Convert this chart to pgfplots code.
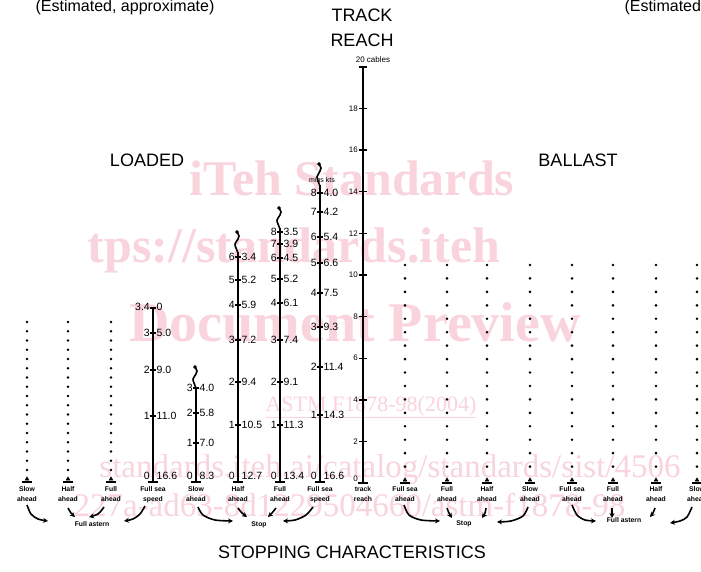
\documentclass[border=0pt]{standalone}
\usepackage{pgfplots}
\pgfplotsset{compat=1.18}
\usepackage{fontspec}
\setmainfont{Liberation Sans}
\newfontfamily\wm{Liberation Serif}
\usetikzlibrary{arrows.meta}
\definecolor{wmpink}{RGB}{249,212,220}
\newcommand{\fs}[1]{\fontsize{#1}{#1}\selectfont}
\newcommand{\lab}[4]{%
  \node[anchor=east,inner sep=0pt,xshift=-3pt,font=\fs{10.5}] at (axis cs:#1,#2) {#3};%
  \node[anchor=west,inner sep=0pt,xshift=3.5pt,font=\fs{10.5}] at (axis cs:#1,#2) {#4};}
\newcommand{\bl}[3]{%
  \node[inner sep=0pt,font=\bfseries\fs{6.8}] at (axis cs:#1,489) {#2};%
  \node[inner sep=0pt,font=\bfseries\fs{6.8}] at (axis cs:#1,499.5) {#3};}
\begin{document}
\begin{tikzpicture}
\clip (0,0) rectangle (701pt,572pt);
\fill[white] (0,0) rectangle (701pt,572pt);
\begin{axis}[at={(0,0)}, anchor=south west, scale only axis,
  width=701pt, height=572pt, xmin=0, xmax=701, ymin=0, ymax=572,
  y dir=reverse, hide axis, clip=false]
% ---- watermark
\node[text=wmpink,font=\wm\bfseries\fs{50}] at (axis cs:352,178) {iTeh Standards};
\node[text=wmpink,font=\wm\bfseries\fs{50}] at (axis cs:294,250) {tps://standards.iteh};
\node[text=wmpink,font=\wm\bfseries\fs{56}] at (axis cs:355,322) {Document Preview};
\node[text=wmpink,font=\wm\fs{22}] at (axis cs:371,407) {\underline{ASTM F1878-98(2004)}};
\node[text=wmpink,font=\wm\fs{33}] at (axis cs:390,470) {standards.iteh.ai/catalog/standards/sist/4506};
\node[text=wmpink,font=\wm\fs{33},anchor=west] at (axis cs:70,505) {227a-ad63-8d1229504660/astm-f1878-98};
% ---- titles
\node[font=\fs{16}] at (axis cs:125,7) {(Estimated, approximate)};
\node[font=\fs{16},anchor=west] at (axis cs:621,7) {(Estimated, approximate)};
\node[font=\fs{18}] at (axis cs:362,15) {TRACK};
\node[font=\fs{18}] at (axis cs:362,40) {REACH};
\node[font=\fs{8}] at (axis cs:373,60) {20 cables};
\node[font=\fs{18}] at (axis cs:147,160) {LOADED};
\node[font=\fs{18}] at (axis cs:578,160) {BALLAST};
\node[font=\fs{18}] at (axis cs:352,552) {STOPPING CHARACTERISTICS};
\node[font=\fs{7}] at (axis cs:322,180) {mins kts};
% ---- dotted lines
\addplot[black, line width=2.9pt, line cap=round, dash pattern=on 0pt off 9.25pt] coordinates {(27,322) (27,470)};
\addplot[black, line width=2.9pt, line cap=round, dash pattern=on 0pt off 9.25pt] coordinates {(68,322) (68,470)};
\addplot[black, line width=2.9pt, line cap=round, dash pattern=on 0pt off 9.25pt] coordinates {(111,322) (111,470)};
\foreach \xx in {405,447,487,530,572,613,656,697}{
  \edef\tmp{\noexpand\addplot[black, line width=2.9pt, line cap=round, dash pattern=on 0pt off 13.44pt] coordinates {(\xx,265) (\xx,480)};}\tmp
}
% ---- bases
\addplot[only marks, mark=-, mark size=5pt, mark options={line width=2pt}] coordinates {(27,482) (68,482) (111,482) (153,482) (196,482) (238,482) (280,482) (320,482) (363,483) (405,483) (447,483) (487,483) (530,483) (572,483) (613,483) (656,483) (697,483)};
\addplot[only marks, mark=triangle*, mark size=2.2pt] coordinates {(27,479) (68,479) (111,479) (405,480) (447,480) (487,480) (530,480) (572,480) (613,480) (656,480) (697,480)};
% ---- solid lines
\addplot[black, line width=1.9pt] coordinates {(153,482) (153,308)};
\addplot[black, line width=1.9pt] coordinates {(196,482) (196,387)};
\addplot[black, line width=1.9pt] coordinates {(238,482) (238,252)};
\addplot[black, line width=1.9pt] coordinates {(280,482) (280,228)};
\addplot[black, line width=1.9pt] coordinates {(320,482) (320,185)};
\addplot[black, line width=2.3pt] coordinates {(363,483) (363,67)};
% squiggles
\addplot[black, line width=1.6pt, smooth] coordinates {(196,388) (194,383) (193,379) (196,374) (197,371) (195,367)};
\addplot[black, line width=1.6pt, smooth] coordinates {(238,253) (236,248) (235,244) (238,239) (239,236) (237,232)};
\addplot[black, line width=1.6pt, smooth] coordinates {(280,229) (278,224) (277,220) (280,215) (281,212) (279,208)};
\addplot[black, line width=1.6pt, smooth] coordinates {(320,186) (318,181) (317,177) (320,171) (321,168) (319,164)};
\addplot[only marks, mark=*, mark size=1.6pt] coordinates {(195,367) (237,232) (279,208) (319,164)};
% minute ticks
\addplot[only marks, mark=-, mark size=3pt, mark options={line width=1.2pt}] coordinates {
 (153,308) (153,333) (153,370) (153,416)
 (196,388) (196,413) (196,443)
 (238,257) (238,280) (238,305) (238,340) (238,382) (238,425)
 (280,232) (280,244) (280,258) (280,279) (280,303) (280,340) (280,382) (280,425)
 (320,193) (320,212) (320,237) (320,263) (320,293) (320,327) (320,367) (320,415)};
\addplot[only marks, mark=-, mark size=4pt, mark options={line width=1.4pt}] coordinates {
 (363,67) (363,108.6) (363,150.2) (363,191.8) (363,233.4) (363,275) (363,316.6) (363,358.2) (363,399.8) (363,441.4)};
% ---- labels on lines
\lab{153}{476}{0}{16.6}\lab{153}{416}{1}{11.0}\lab{153}{370}{2}{9.0}\lab{153}{333}{3}{5.0}\lab{153}{307}{3.4}{0}
\lab{196}{476}{0}{8.3}\lab{196}{443}{1}{7.0}\lab{196}{413}{2}{5.8}\lab{196}{388}{3}{4.0}
\lab{238}{476}{0}{12.7}\lab{238}{425}{1}{10.5}\lab{238}{382}{2}{9.4}\lab{238}{340}{3}{7.2}\lab{238}{305}{4}{5.9}\lab{238}{280}{5}{5.2}\lab{238}{257}{6}{3.4}
\lab{280}{476}{0}{13.4}\lab{280}{425}{1}{11.3}\lab{280}{382}{2}{9.1}\lab{280}{340}{3}{7.4}\lab{280}{303}{4}{6.1}\lab{280}{279}{5}{5.2}\lab{280}{258}{6}{4.5}\lab{280}{244}{7}{3.9}\lab{280}{232}{8}{3.5}
\lab{320}{476}{0}{16.6}\lab{320}{415}{1}{14.3}\lab{320}{367}{2}{11.4}\lab{320}{327}{3}{9.3}\lab{320}{293}{4}{7.5}\lab{320}{263}{5}{6.6}\lab{320}{237}{6}{5.4}\lab{320}{212}{7}{4.2}\lab{320}{193}{8}{4.0}
% track reach scale labels
\foreach \v/\yy in {0/479,2/441.4,4/399.8,6/358.2,8/316.6,10/275,12/233.4,14/191.8,16/150.2,18/108.6}{
  \edef\tmp{\noexpand\node[anchor=east,inner sep=0pt,font=\noexpand\fs{8}] at (axis cs:358,\yy) {\v};}\tmp
}
% ---- bottom labels
\bl{27}{Slow}{ahead}\bl{68}{Half}{ahead}\bl{111}{Full}{ahead}\bl{153}{Full sea}{speed}
\bl{196}{Slow}{ahead}\bl{238}{Half}{ahead}\bl{280}{Full}{ahead}\bl{320}{Full sea}{speed}
\bl{363}{track}{reach}
\bl{405}{Full sea}{ahead}\bl{447}{Full}{ahead}\bl{487}{Half}{ahead}\bl{530}{Slow}{ahead}
\bl{572}{Full sea}{ahead}\bl{613}{Full}{ahead}\bl{656}{Half}{ahead}\bl{697}{Slow}{ahead}
\node[inner sep=0pt,font=\bfseries\fs{6.8}] at (axis cs:92,524) {Full astern};
\node[inner sep=0pt,font=\bfseries\fs{6.8}] at (axis cs:259,525) {Stop};
\node[inner sep=0pt,font=\bfseries\fs{6.8}] at (axis cs:464,524) {Stop};
\node[inner sep=0pt,font=\bfseries\fs{6.8}] at (axis cs:624,520) {Full astern};
% ---- arrows
\pgfplotsset{arr/.style={black, line width=1.6pt, smooth, -{Stealth[length=5pt,width=5pt]}}}
\addplot[arr] coordinates {(27,505) (31,514) (38,519) (48,521)};
\addplot[arr] coordinates {(68,508) (71,513) (75,517)};
\addplot[arr] coordinates {(104,507) (98,514) (89,517)};
\addplot[arr] coordinates {(145,506) (140,514) (133,519) (124,521)};
\addplot[arr] coordinates {(198,507) (203,515) (215,520) (233,521)};
\addplot[arr] coordinates {(238,508) (242,513) (247,517)};
\addplot[arr] coordinates {(276,508) (272,513) (268,517)};
\addplot[arr] coordinates {(313,507) (306,515) (295,520) (283,521)};
\addplot[arr] coordinates {(404,505) (409,515) (421,520) (440,521)};
\addplot[arr] coordinates {(447,508) (449,513) (452,518)};
\addplot[arr] coordinates {(486,508) (485,513) (482,518)};
\addplot[arr] coordinates {(528,507) (523,516) (511,521) (497,522)};
\addplot[arr] coordinates {(572,505) (577,515) (585,520) (596,521)};
\addplot[arr] coordinates {(612,508) (612,513) (612,518)};
\addplot[arr] coordinates {(655,508) (653,513) (650,517)};
\addplot[arr] coordinates {(692,507) (687,517) (680,521) (670,523)};
\end{axis}
\end{tikzpicture}
\end{document}
